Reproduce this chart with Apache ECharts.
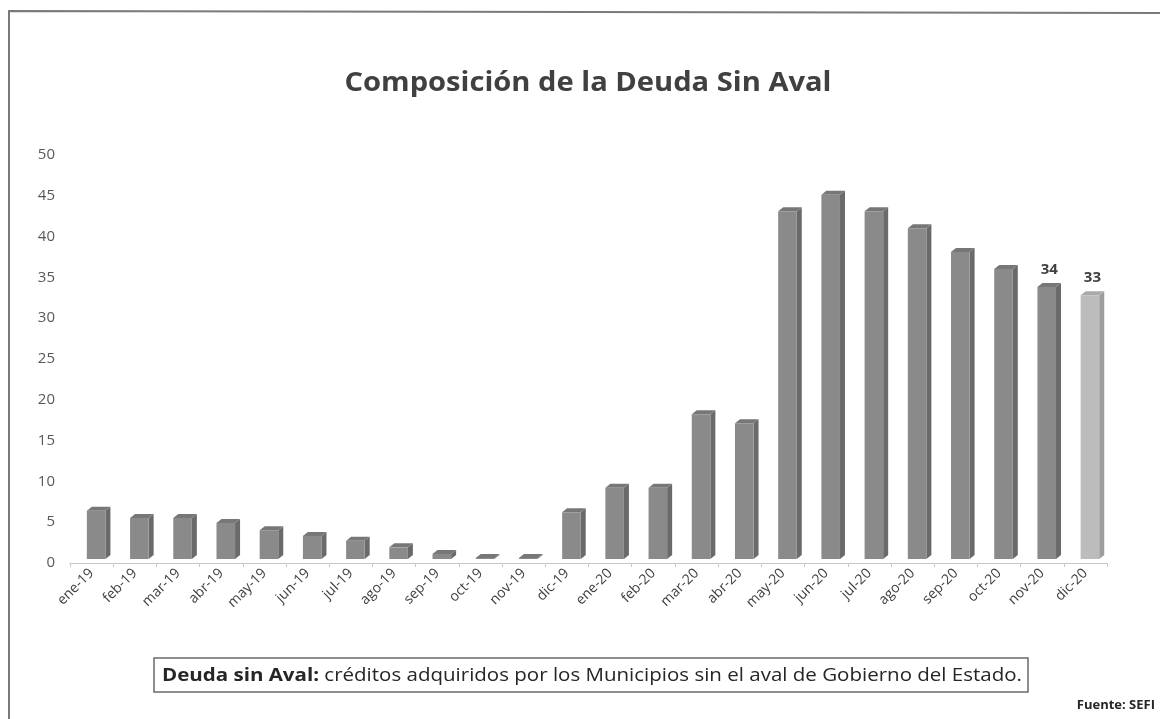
<!DOCTYPE html>
<html>
<head>
<meta charset="utf-8">
<script src="https://cdn.jsdelivr.net/npm/echarts@6/dist/echarts.min.js"></script>
<style>
  html, body { margin: 0; padding: 0; background: #ffffff; }
  #chart { width: 1160px; height: 719px; }
</style>
</head>
<body>
<div id="chart"></div>
<script>
// ---- data ----
const categories = ['ene-19','feb-19','mar-19','abr-19','may-19','jun-19','jul-19','ago-19','sep-19','oct-19','nov-19','dic-19',
                    'ene-20','feb-20','mar-20','abr-20','may-20','jun-20','jul-20','ago-20','sep-20','oct-20','nov-20','dic-20'];
const deudaSinAval = [6.6, 5.7, 5.7, 5.1, 4.2, 3.5, 2.9, 2.1, 1.3, 0.5, 0.5, 6.4,
                      9.4, 9.4, 18.4, 17.3, 43.3, 45.3, 43.3, 41.2, 38.3, 36.2, 34, 33];
const labeledCategories = ['nov-20', 'dic-20'];
const highlightCategory = 'dic-20';
const yTicks = { min: 0, max: 50, interval: 5 };
const titleText = 'Composición de la Deuda Sin Aval';
const noteBold = 'Deuda sin Aval:';
const noteText = ' créditos adquiridos por los Municipios sin el aval de Gobierno del Estado.';
const sourceText = 'Fuente: SEFI';

// ---- helpers ----
const FONT = '"Open Sans", Lato, sans-serif';
const mctx = document.createElement('canvas').getContext('2d');
function textWidth(font, txt) { mctx.font = font; return mctx.measureText(txt).width; }

const titleFont = 'bold 26px ' + FONT;
const titleScale = 487 / textWidth(titleFont, titleText);
const noteW = textWidth('bold 18px ' + FONT, noteBold) + textWidth('18px ' + FONT, noteText);
const noteScale = 860 / noteW;

// ---- chart ----
const chart = echarts.init(document.getElementById('chart'), null, { renderer: 'canvas' });
const seriesData = deudaSinAval.map((v, i) => [i, v]);

function renderBar(params, api) {
  const idx = api.value(0);
  const v = api.value(1);
  const cat = categories[idx];
  const base = api.coord([idx, 0]);
  const top = api.coord([idx, v]);
  const band = api.size([1, 0])[0];
  const w = band * 0.43;
  const dx = 5, dy = 4;
  const x0 = base[0] - band * 0.11;
  const x1 = x0 + w;
  const yb = base[1] - 4;
  let yt = top[1] + 1.5;
  if (yt > yb - 1) yt = yb - 1;
  const hl = cat === highlightCategory;
  const cFront = hl ? '#bcbcbc' : '#8a8a8a';
  const cSide = hl ? '#9d9d9d' : '#6a6a6a';
  const cTop = hl ? '#aaaaaa' : '#777777';
  const children = [
    { type: 'polygon', shape: { points: [[x1, yt], [x1 + dx, yt - dy], [x1 + dx, yb - dy], [x1, yb]] }, style: { fill: cSide } },
    { type: 'polygon', shape: { points: [[x0, yt], [x0 + dx, yt - dy], [x1 + dx, yt - dy], [x1, yt]] }, style: { fill: cTop } },
    { type: 'rect', shape: { x: x0, y: yt, width: w, height: yb - yt }, style: { fill: cFront } }
  ];
  if (labeledCategories.indexOf(cat) >= 0) {
    children.push({
      type: 'text',
      style: {
        text: String(v), x: (x0 + x1 + dx) / 2, y: yt - dy - 6,
        align: 'center', verticalAlign: 'bottom',
        font: 'bold 15px ' + FONT, fill: '#404040'
      }
    });
  }
  return { type: 'group', children: children };
}

const option = {
  backgroundColor: '#ffffff',
  animation: false,
  grid: { left: 70, right: 53, top: 155, bottom: 156 },
  xAxis: {
    type: 'category',
    data: categories,
    boundaryGap: true,
    axisLine: { show: true, lineStyle: { color: '#c8c8c8', width: 1 } },
    axisTick: { show: true, alignWithLabel: false, length: 4, lineStyle: { color: '#c8c8c8' } },
    axisLabel: { rotate: 45, interval: 0, fontFamily: FONT, fontSize: 14, color: '#404040', margin: 8 },
    splitLine: { show: false }
  },
  yAxis: {
    type: 'value',
    min: yTicks.min, max: yTicks.max, interval: yTicks.interval,
    axisLine: { show: false },
    axisTick: { show: false },
    splitLine: { show: false },
    axisLabel: { fontFamily: FONT, fontSize: 15, color: '#595959', margin: 15 }
  },
  series: [{
    type: 'custom',
    renderItem: renderBar,
    encode: { x: 0, y: 1 },
    data: seriesData,
    clip: false
  }],
  graphic: [
    { type: 'polyline', shape: { points: [[9, 719], [9, 11], [1160, 13]] }, style: { stroke: '#7a7a7a', lineWidth: 2, fill: null } },
    {
      type: 'text', x: 588, y: 84, scaleX: titleScale, scaleY: 1,
      style: { text: titleText, font: titleFont, fill: '#404040', align: 'center', verticalAlign: 'middle' }
    },
    { type: 'rect', shape: { x: 154, y: 658, width: 874, height: 34 }, style: { stroke: '#6a6a6a', lineWidth: 1.5, fill: '#ffffff' } },
    {
      type: 'text', x: 162, y: 676, scaleX: noteScale, scaleY: 1,
      style: {
        text: '{b|' + noteBold + '}{r|' + noteText + '}',
        verticalAlign: 'middle',
        rich: {
          b: { fontFamily: FONT, fontWeight: 'bold', fontSize: 18, fill: '#262626' },
          r: { fontFamily: FONT, fontSize: 18, fill: '#262626' }
        }
      }
    },
    {
      type: 'text', x: 1155, y: 705,
      style: { text: sourceText, font: 'bold 13px ' + FONT, fill: '#262626', align: 'right', verticalAlign: 'middle' }
    }
  ]
};
chart.setOption(option);
</script>
</body>
</html>
